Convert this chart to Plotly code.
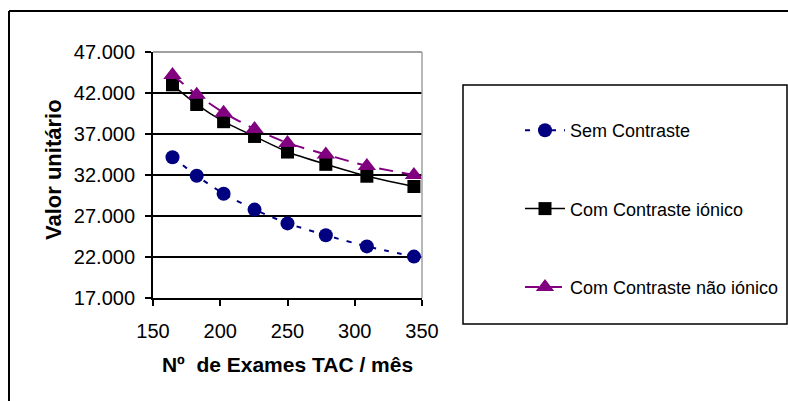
import plotly.graph_objects as go

# ---- data ----
exames = [164.5, 182.5, 202.5, 225.5, 250, 278.5, 309, 344]
sem_contraste = [34170, 31900, 29710, 27780, 26100, 24650, 23290, 22050]
com_ionico = [43000, 40600, 38500, 36700, 34800, 33300, 31850, 30600]
com_nao_ionico = [44200, 41800, 39600, 37600, 35900, 34500, 33100, 32000]
series_names = ["Sem Contraste", "Com Contraste iónico", "Com Contraste não iónico"]
x_ticks = [150, 200, 250, 300, 350]
y_ticks = [17000, 22000, 27000, 32000, 37000, 42000, 47000]

W, H = 788, 401
L, R, T, B = 153, 366, 52, 103
pw, ph = W - L - R, H - T - B

def px(xp):
    return (xp - L) / pw

def py(yp):
    return (H - B - yp) / ph

fig = go.Figure()
fig.add_trace(go.Scatter(
    x=exames, y=sem_contraste, name=series_names[0], mode="lines+markers",
    line=dict(color="#000080", width=2, dash="5px,8px", shape="spline", smoothing=0.5),
    marker=dict(symbol="circle", size=14, color="#000080"),
    legendgroup="a"))
fig.add_trace(go.Scatter(
    x=exames, y=com_ionico, name=series_names[1], mode="lines+markers",
    line=dict(color="black", width=1.5, shape="spline", smoothing=0.5),
    marker=dict(symbol="square", size=13, color="black"),
    legendgroup="b"))
fig.add_trace(go.Scatter(
    x=exames, y=com_nao_ionico, name=series_names[2], mode="lines+markers",
    line=dict(color="#800080", width=2, dash="14px,9px", shape="spline", smoothing=0.5),
    marker=dict(symbol="triangle-up", size=16, color="#800080"),
    legendgroup="c"))

font_family = "Liberation Sans, Arial, sans-serif"

fig.update_layout(
    width=W, height=H,
    margin=dict(l=L, r=R, t=T, b=B, pad=0, autoexpand=False),
    paper_bgcolor="white", plot_bgcolor="white",
    font=dict(family=font_family, color="black", size=20),
    separators=",.",
    showlegend=True,
    legend=dict(
        x=px(520), y=py(112), xanchor="left", yanchor="top",
        bgcolor="rgba(0,0,0,0)", borderwidth=0,
        font=dict(size=18, family=font_family, color="black"),
        tracegroupgap=52, itemwidth=40,
    ),
    xaxis=dict(
        range=[150, 350], tickvals=x_ticks, showgrid=False, zeroline=False,
        showline=True, linecolor="black", linewidth=2,
        ticks="outside", ticklen=6, tickwidth=1.5, tickcolor="black",
        tickfont=dict(size=20), ticklabelstandoff=8,
        title=dict(text="<b>Nº  de Exames TAC / mês</b>", font=dict(size=21), standoff=16),
    ),
    yaxis=dict(
        range=[17000, 47000], tickvals=y_ticks, tickformat=",d",
        showgrid=True, gridcolor="black", gridwidth=2, zeroline=False,
        showline=True, linecolor="black", linewidth=2,
        ticks="outside", ticklen=6, tickwidth=1.5, tickcolor="black",
        tickfont=dict(size=20), ticklabelstandoff=6,
    ),
    shapes=[
        # plot-area border (top and right, grey)
        dict(type="line", xref="paper", yref="paper", x0=0, x1=1, y0=1, y1=1,
             line=dict(color="#a0a0a0", width=2), layer="above"),
        dict(type="line", xref="paper", yref="paper", x0=1, x1=1, y0=0, y1=1,
             line=dict(color="#a0a0a0", width=1.5), layer="above"),
        # legend box
        dict(type="rect", xref="paper", yref="paper",
             x0=px(463), x1=px(787), y0=py(324), y1=py(85),
             line=dict(color="black", width=1.5), fillcolor="rgba(0,0,0,0)"),
        # outer chart border (top and left)
        dict(type="line", xref="paper", yref="paper", x0=px(9), x1=px(800), y0=py(11), y1=py(11),
             line=dict(color="black", width=2)),
        dict(type="line", xref="paper", yref="paper", x0=px(9), x1=px(9), y0=py(11), y1=py(410),
             line=dict(color="black", width=2)),
    ],
    annotations=[
        dict(text="<b>Valor unitário</b>", xref="paper", yref="paper",
             x=px(53), y=py(170), textangle=-90, showarrow=False,
             font=dict(size=22, family=font_family, color="black"),
             xanchor="center", yanchor="middle"),
    ],
)

fig.write_html("out.html")
